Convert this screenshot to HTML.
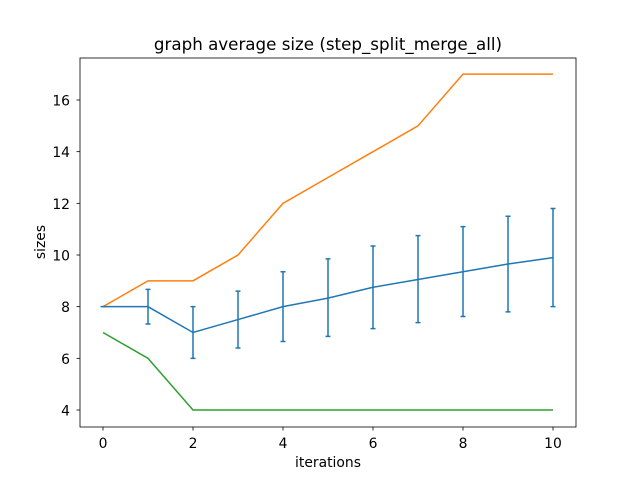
<!DOCTYPE html>
<html><head><meta charset="utf-8"><style>
body{margin:0;background:#fff;font-family:"DejaVu Sans","Liberation Sans",sans-serif}
</style></head><body>
<svg id="chart" width="640" height="480" xmlns="http://www.w3.org/2000/svg">
<rect width="640" height="480" fill="#fff"/>
<text x="328" y="50" text-anchor="middle" font-size="16.7">graph average size (step_split_merge_all)</text>
<g id="plot"></g>
<rect x="80" y="58" width="496" height="369" fill="none" stroke="#000" stroke-width="0.8"/>
<text x="328" y="467" text-anchor="middle" font-size="13.9">iterations</text>
<text x="45" y="242" text-anchor="middle" font-size="13.9" transform="rotate(-90 45 242)">sizes</text>
</svg>
<script>
const iterations=[0,1,2,3,4,5,6,7,8,9,10];
const meanSizes=[8,8,7,7.5,8,8.33,8.75,9.05,9.35,9.65,9.9];
const upperErr=[8,8.67,8,8.6,9.35,9.85,10.35,10.75,11.1,11.5,11.8];
const lowerErr=[8,7.33,6,6.4,6.65,6.85,7.15,7.38,7.62,7.8,8];
const maxSizes=[8,9,9,10,12,13,14,15,17,17,17];
const minSizes=[7,6,4,4,4,4,4,4,4,4,4];
const xTicks=[0,2,4,6,8,10];
const yTicks=[4,6,8,10,12,14,16];
const xs=v=>103+v*45;
const ys=v=>410-(v-4)*(310/12);
const NS="http://www.w3.org/2000/svg";
const g=document.getElementById('plot');
function mk(t,a){const e=document.createElementNS(NS,t);for(const k in a)e.setAttribute(k,a[k]);g.appendChild(e);return e;}
xTicks.forEach(v=>{
 const l=mk('line',{x1:xs(v),x2:xs(v),y1:427,y2:430.5,stroke:'#000','stroke-width':0.8});
 
 
 const t=mk('text',{x:xs(v),y:448,'text-anchor':'middle','font-size':13.9});
 t.textContent=v;
 
 
});
yTicks.forEach(v=>{
 const l=mk('line',{x1:76.5,x2:80,y1:ys(v),y2:ys(v),stroke:'#000','stroke-width':0.8});
 
 
 const t=mk('text',{x:70,y:ys(v)+5.5,'text-anchor':'end','font-size':13.9});
 t.textContent=v;
 
 
});
function line(vals,color,name){
 const p=mk('polyline',{points:vals.map((v,i)=>xs(iterations[i])+','+ys(v)).join(' '),fill:'none',stroke:color,'stroke-width':1.5});
 
 
}
line(maxSizes,'#ff7f0e','max-size-line');
line(minSizes,'#2ca02c','min-size-line');
line(meanSizes,'#1f77b4','mean-size-line');
iterations.forEach((it,i)=>{
 const x=xs(it);
 const e=mk('path',{d:`M${x},${ys(upperErr[i])}V${ys(lowerErr[i])}M${x-2.5},${ys(upperErr[i])}H${x+2.5}M${x-2.5},${ys(lowerErr[i])}H${x+2.5}`,stroke:'#1f77b4','stroke-width':1.5,fill:'none'});
 
 
});
</script>
</body></html>
